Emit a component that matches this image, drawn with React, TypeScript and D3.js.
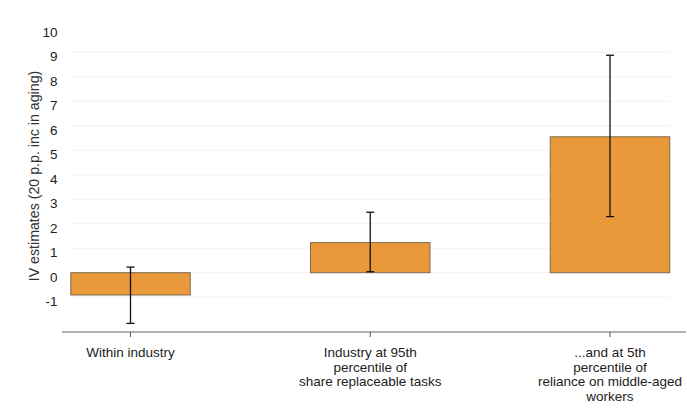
import React from "react";
import * as d3 from "d3";

const categories = [
  ["Within industry"],
  ["Industry at 95th", "percentile of", "share replaceable tasks"],
  ["...and at 5th", "percentile of", "reliance on middle-aged", "workers"],
];
const estimates = [-0.91, 1.23, 5.55];
const ciLow = [-2.07, 0.04, 2.29];
const ciHigh = [0.23, 2.47, 8.88];
const yTicks = [-1, 0, 1, 2, 3, 4, 5, 6, 7, 8, 9, 10];
const yLabel = "IV estimates (20 p.p. inc in aging)";

const W = 687;
const H = 415;
const FONT = "'Liberation Sans', Arial, sans-serif";

export default function App() {
  const y = d3.scaleLinear().domain([0, 9]).range([272.7, 52.3]);
  const x = d3
    .scalePoint<number>()
    .domain(categories.map((_, i) => i))
    .range([130.5, 610]);
  const barW = 119.5;
  const axisY = 332;

  return (
    <svg
      width={W}
      height={H}
      style={{ position: "absolute", left: 0, top: 0, background: "#fff" }}
    >
      {yTicks
        .filter((t) => t !== 10)
        .map((t) => (
          <line
            key={"g" + t}
            x1={70}
            x2={670}
            y1={y(t)}
            y2={y(t)}
            stroke="#f1f1f1"
            strokeWidth={1}
          />
        ))}
      {yTicks.map((t) => (
        <text
          key={"t" + t}
          x={57.5}
          y={y(t) + 8.8}
          textAnchor="end"
          fontFamily={FONT}
          fontSize={13.5}
          fill="#222"
        >
          {t}
        </text>
      ))}
      <text
        transform={`translate(39,176) rotate(-90)`}
        textAnchor="middle"
        fontFamily={FONT}
        fontSize={14.2}
        fill="#333"
      >
        {yLabel}
      </text>
      {estimates.map((v, i) => {
        const cx = x(i)!;
        const y0 = y(Math.max(0, v));
        const y1 = y(Math.min(0, v));
        return (
          <rect
            key={"b" + i}
            x={cx - barW / 2}
            y={y0}
            width={barW}
            height={y1 - y0}
            fill="#E9993A"
            stroke="#7d6a4f"
            strokeWidth={1}
          />
        );
      })}
      {estimates.map((_, i) => {
        const cx = x(i)!;
        const top = y(ciHigh[i]);
        const bot = y(ciLow[i]);
        return (
          <g key={"e" + i} stroke="#111" strokeWidth={1.3}>
            <line x1={cx} x2={cx} y1={top} y2={bot} />
            <line x1={cx - 4} x2={cx + 4} y1={top} y2={top} />
            <line x1={cx - 4} x2={cx + 4} y1={bot} y2={bot} />
          </g>
        );
      })}
      <line x1={62} x2={686} y1={axisY} y2={axisY} stroke="#999" strokeWidth={1.5} />
      {categories.map((_, i) => (
        <line
          key={"xt" + i}
          x1={x(i)!}
          x2={x(i)!}
          y1={axisY}
          y2={axisY + 5}
          stroke="#555"
          strokeWidth={1}
        />
      ))}
      {categories.map((lines, i) => (
        <text
          key={"xl" + i}
          textAnchor="middle"
          fontFamily={FONT}
          fontSize={13.5}
          fill="#222"
        >
          {lines.map((l, j) => (
            <tspan key={j} x={x(i)!} y={357 + j * 14.5}>
              {l}
            </tspan>
          ))}
        </text>
      ))}
    </svg>
  );
}
